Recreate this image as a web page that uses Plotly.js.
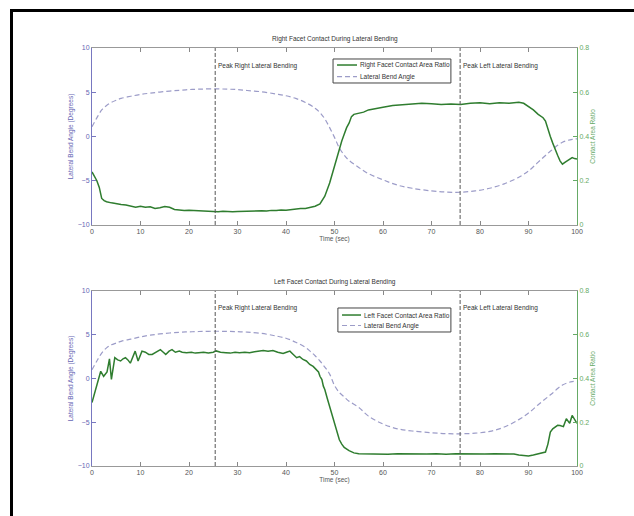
<!DOCTYPE html>
<html>
<head>
<meta charset="utf-8">
<script src="https://cdn.plot.ly/plotly-3.0.1.min.js"></script>
<style>
  html, body { margin: 0; padding: 0; background: #fff; }
  #wrap { position: relative; width: 634px; height: 516px; }
  #chart { position: absolute; left: 0; top: 0; width: 634px; height: 516px; }
  #frame { position: absolute; left: 10px; top: 9px; width: 640px; height: 520px;
           border-left: 3px solid #000; border-top: 3px solid #000; pointer-events: none; }
</style>
</head>
<body>
<div id="wrap"><div id="chart"></div><div id="frame"></div></div>
<script>
// ---------------- DATA ----------------
const titleTop = "Right Facet Contact During Lateral Bending";
const titleBottom = "Left Facet Contact During Lateral Bending";
const xTitle = "Time (sec)";
const yLeftTitle = "Lateral Bend Angle (Degrees)";
const yRightTitle = "Contact Area Ratio";
const nameRightRatio = "Right Facet Contact Area Ratio";
const nameLeftRatio = "Left Facet Contact Area Ratio";
const nameAngle = "Lateral Bend Angle";
const peakTimes = [25.4, 75.9];
const peakLabels = ["Peak Right Lateral Bending", "Peak Left Lateral Bending"];
const peakLabelAngle = 8.0;

// Top plot: lateral bend angle (degrees)
const angleTopTime = [0,1,2,3,4,5,6,8,10,12,15,18,20,22,25,28,30,32,35,38,40,42,44,46,47,48,49,50,51,52,53,55,57,60,63,66,70,73,76,79,82,85,88,90,92,94,95,96,97,98,99,100];
const angleTop = [1.1,2.1,3.0,3.5,3.85,4.1,4.3,4.55,4.75,4.9,5.08,5.22,5.3,5.35,5.38,5.35,5.3,5.2,5.05,4.8,4.6,4.3,3.85,3.2,2.7,2.0,1.0,-0.1,-1.3,-2.1,-2.7,-3.5,-4.2,-4.9,-5.5,-5.85,-6.15,-6.28,-6.3,-6.15,-5.85,-5.35,-4.6,-3.9,-2.9,-1.9,-1.45,-1.0,-0.65,-0.45,-0.32,-0.26];

// Top plot: right facet contact area ratio
const ratioTopTime = [0,0.5,1,1.5,2,2.5,3,4,5,6,7,8,9,10,11,12,13,14,15,16,17,18,19,20,21,22,23,24,25,26,27,28,29,30,31,32,33,34,35,36,37,38,39,40,41,42,43,44,45,46,47,48,49,50,51,51.5,52,52.5,53,53.5,54,55,56,57,58,59,60,62,64,66,68,70,72,74,76,78,80,82,84,86,88,89,90,91,92,93,93.5,94,94.5,95,95.5,96,96.5,97,97.5,98,98.5,99,99.5,100];
const ratioTop = [0.24,0.22,0.20,0.17,0.12,0.11,0.105,0.10,0.095,0.093,0.09,0.085,0.08,0.085,0.08,0.082,0.075,0.078,0.083,0.08,0.07,0.068,0.065,0.067,0.066,0.063,0.064,0.062,0.063,0.06,0.062,0.06,0.06,0.061,0.062,0.06,0.063,0.062,0.064,0.063,0.066,0.065,0.068,0.067,0.07,0.072,0.074,0.075,0.08,0.085,0.095,0.13,0.19,0.27,0.34,0.38,0.41,0.44,0.46,0.49,0.50,0.505,0.51,0.52,0.525,0.53,0.532,0.54,0.543,0.545,0.55,0.548,0.545,0.547,0.545,0.55,0.552,0.548,0.553,0.55,0.555,0.55,0.535,0.52,0.50,0.485,0.47,0.43,0.40,0.37,0.34,0.315,0.29,0.275,0.283,0.29,0.30,0.305,0.30,0.298];

// Bottom plot: lateral bend angle (degrees)
const angleBottomTime = [0,1,2,3,4,5,6,8,10,12,15,18,20,22,25,28,30,32,35,38,40,42,44,45,46,47,48,49,50,51,52,53,55,57,60,63,66,70,73,76,79,82,85,88,90,92,94,95,96,97,98,99,100];
const angleBottom = [1.0,2.0,2.9,3.5,3.85,4.05,4.25,4.5,4.75,4.95,5.15,5.28,5.33,5.37,5.4,5.38,5.35,5.3,5.15,4.85,4.6,4.15,3.55,3.1,2.6,2.0,1.3,0.5,-0.8,-1.6,-2.1,-2.6,-3.3,-4.3,-5.2,-5.75,-6.0,-6.2,-6.3,-6.32,-6.25,-6.05,-5.55,-4.7,-3.95,-3.0,-2.1,-1.65,-1.15,-0.75,-0.5,-0.35,-0.3];

// Bottom plot: left facet contact area ratio
const ratioBottomTime = [0,0.5,1,1.5,1.8,2.4,3.1,3.6,4.0,4.7,5.3,5.9,6.4,6.9,7.4,7.9,8.4,8.9,9.5,10.3,11,11.7,12.4,13.2,14.1,14.7,15.2,15.9,16.5,17.2,18,18.6,19.5,20.5,21.3,22,23,24,25,25.6,26.5,27.6,28.5,29.5,30.4,31.5,32.5,33.5,34.3,35.3,36.3,37.3,38.3,39.4,40.1,40.8,41.5,42.2,42.8,43.5,44.2,44.9,45.6,46.3,46.7,47,47.4,47.7,48,48.5,49,49.5,50,50.5,51,51.5,52,53,54,55,57,59,61,63,65,67,69,71,73,75,77,79,81,83,85,87,88,89,90,91,92,93,93.5,94,94.5,95,95.5,96,96.5,97.2,97.8,98.5,99,99.6,100];
const ratioBottom = [0.29,0.33,0.372,0.41,0.433,0.41,0.43,0.49,0.396,0.495,0.485,0.48,0.49,0.495,0.485,0.47,0.50,0.525,0.48,0.525,0.52,0.51,0.51,0.52,0.532,0.52,0.51,0.525,0.532,0.52,0.525,0.52,0.518,0.52,0.516,0.518,0.52,0.517,0.52,0.526,0.52,0.518,0.516,0.52,0.518,0.52,0.518,0.522,0.526,0.528,0.525,0.528,0.52,0.514,0.52,0.525,0.51,0.495,0.50,0.487,0.48,0.464,0.455,0.44,0.43,0.41,0.395,0.365,0.35,0.31,0.27,0.23,0.19,0.15,0.12,0.10,0.085,0.07,0.06,0.056,0.055,0.057,0.054,0.056,0.055,0.057,0.055,0.056,0.054,0.056,0.055,0.057,0.055,0.056,0.054,0.055,0.05,0.047,0.046,0.05,0.056,0.06,0.064,0.10,0.155,0.17,0.18,0.186,0.185,0.18,0.216,0.195,0.231,0.208,0.195];

const xTicks = [0,10,20,30,40,50,60,70,80,90,100];
const yLeftTicks = [-10,-5,0,5,10];
const yRightTicks = [0,0.2,0.4,0.6,0.8];

// ---------------- STYLE ----------------
const green = "#2f7d2f";
const lavender = "#9c9cc8";
const blueAxis = "#7878c0";
const blueText = "#6666b4";
const greenAxis = "#66aa66";
const greyText = "#555555";
const FONT = "Liberation Sans, Arial, sans-serif";
const TXT = 6.5;
const ratioLine = {color: green, width: 1.5};
const angleLine = {color: lavender, width: 1.2, dash: "5px,3px"};

const traces = [
  {x: ratioTopTime, y: ratioTop, type: "scatter", mode: "lines", name: nameRightRatio,
   xaxis: "x", yaxis: "y2", line: ratioLine},
  {x: angleTopTime, y: angleTop, type: "scatter", mode: "lines", name: nameAngle,
   xaxis: "x", yaxis: "y", line: Object.assign({shape: "spline"}, angleLine)},
  {x: ratioBottomTime, y: ratioBottom, type: "scatter", mode: "lines", name: nameLeftRatio,
   xaxis: "x2", yaxis: "y4", line: ratioLine},
  {x: angleBottomTime, y: angleBottom, type: "scatter", mode: "lines", name: nameAngle,
   xaxis: "x2", yaxis: "y3", line: Object.assign({shape: "spline"}, angleLine)}
];

function xAxis(anchor) {
  return {
    anchor: anchor, domain: [0, 1], range: [0, 100], tickvals: xTicks,
    ticks: "inside", ticklen: 4, tickcolor: "#888", showline: true, linecolor: "#999",
    linewidth: 1, mirror: "ticks", showgrid: false, zeroline: false,
    tickfont: {family: FONT, size: 7, color: greyText},
    title: {text: xTitle, font: {family: FONT, size: TXT, color: greyText}, standoff: 2}
  };
}
function yLeft(domain, anchor) {
  return {
    domain: domain, anchor: anchor, range: [-10, 10], tickvals: yLeftTicks,
    ticks: "inside", ticklen: 4, tickcolor: blueAxis, showline: true, linecolor: blueAxis,
    linewidth: 1, showgrid: false, zeroline: false,
    tickfont: {family: FONT, size: 7, color: blueText},
    title: {text: yLeftTitle, font: {family: FONT, size: TXT, color: blueText}, standoff: 3}
  };
}
function yRight(overlay, anchor) {
  return {
    overlaying: overlay, anchor: anchor, side: "right", range: [0, 0.8], tickvals: yRightTicks,
    ticks: "inside", ticklen: 4, tickcolor: greenAxis, showline: true, linecolor: greenAxis,
    linewidth: 1, showgrid: false, zeroline: false,
    tickfont: {family: FONT, size: 7, color: greenAxis},
    title: {text: yRightTitle, font: {family: FONT, size: TXT, color: greenAxis}, standoff: 1}
  };
}

const shapes = [];
const annotations = [];
[["x", "y"], ["x2", "y3"]].forEach(function (ax) {
  peakTimes.forEach(function (t, i) {
    shapes.push({type: "line", xref: ax[0], yref: ax[1] + " domain", x0: t, x1: t, y0: 0, y1: 1,
                 line: {color: "#555", width: 1, dash: "4px,2px"}});
    annotations.push({xref: ax[0], yref: ax[1], x: t, y: peakLabelAngle, text: peakLabels[i],
                      showarrow: false, xanchor: "left", xshift: 1,
                      font: {family: FONT, size: TXT, color: "#333"}});
  });
});
annotations.push({xref: "paper", yref: "paper", x: 0.5, y: 1, yanchor: "bottom", yshift: 3,
                  text: titleTop, showarrow: false, font: {family: FONT, size: TXT, color: "#333"}});
annotations.push({xref: "paper", yref: "paper", x: 0.5, y: 0.4187, yanchor: "bottom", yshift: 3,
                  text: titleBottom, showarrow: false, font: {family: FONT, size: TXT, color: "#333"}});

// MATLAB-style compact legend boxes (paper coordinates), built from the trace names/styles
function addLegend(box, rows, names) {
  shapes.push({type: "rect", xref: "paper", yref: "paper", x0: box[0], x1: box[1], y0: box[2], y1: box[3],
               fillcolor: "#fff", line: {color: "#444", width: 1}, layer: "above"});
  names.forEach(function (nm, k) {
    const ln = k === 0 ? ratioLine : angleLine;
    shapes.push({type: "line", xref: "paper", yref: "paper", x0: rows.sx0, x1: rows.sx1,
                 y0: rows.y[k], y1: rows.y[k], line: {color: ln.color, width: ln.width, dash: ln.dash || "solid"},
                 layer: "above"});
    annotations.push({xref: "paper", yref: "paper", x: rows.tx, y: rows.y[k], xanchor: "left",
                      yanchor: "middle", text: nm, showarrow: false,
                      font: {family: FONT, size: TXT, color: "#333"}});
  });
}
addLegend([0.497, 0.740, 0.9163, 0.9737], {sx0: 0.5052, sx1: 0.5464, tx: 0.5485, y: [0.9593, 0.9313]},
          [nameRightRatio, nameAngle]);
addLegend([0.507, 0.740, 0.3206, 0.378], {sx0: 0.5155, sx1: 0.5546, tx: 0.5567, y: [0.3612, 0.3361]},
          [nameLeftRatio, nameAngle]);

const layout = {
  width: 634, height: 516,
  margin: {l: 92, r: 57, t: 48, b: 50},
  paper_bgcolor: "#fff", plot_bgcolor: "#fff",
  showlegend: false,
  xaxis: xAxis("y"),
  yaxis: yLeft([0.5766, 1], "x"),
  yaxis2: yRight("y", "x"),
  xaxis2: xAxis("y3"),
  yaxis3: yLeft([0, 0.4187], "x2"),
  yaxis4: yRight("y3", "x2"),
  shapes: shapes,
  annotations: annotations
};

Plotly.newPlot("chart", traces, layout, {displayModeBar: false, staticPlot: true});
</script>
</body>
</html>
